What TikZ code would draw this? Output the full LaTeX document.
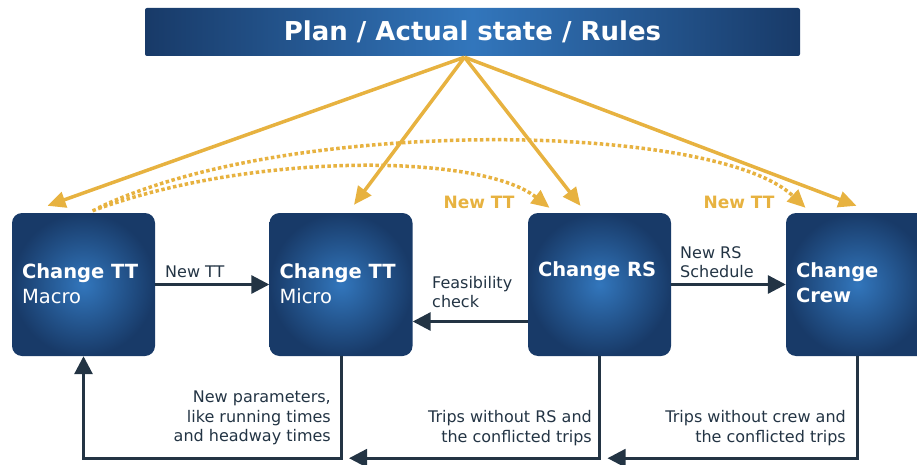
\documentclass[tikz,border=0pt]{standalone}
\usepackage{fontspec}
\setmainfont{DejaVu Sans}
\usetikzlibrary{arrows.meta,calc}

\definecolor{navyout}{RGB}{24,58,104}
\definecolor{navyin}{RGB}{50,118,188}
\definecolor{gold}{RGB}{231,178,64}
\definecolor{darkln}{RGB}{35,52,68}

\begin{document}
\begin{tikzpicture}[x=1pt,y=-1pt,
  box/.style={rounded corners=10pt, minimum width=143pt, minimum height=143pt,
    inner sep=0pt, inner color=navyin, outer color=navyout},
  topbar/.style={minimum width=655pt, minimum height=48pt, inner sep=0pt,
    rounded corners=2pt, left color=navyout, right color=navyout, middle color=navyin,
    text=white, font=\fontsize{26}{30}\selectfont\bfseries},
  boxtxt/.style={anchor=west, align=left, inner sep=0pt, text=white,
    font=\fontsize{19.5}{25}\selectfont},
  lbl/.style={inner sep=0pt, text=darkln, font=\fontsize{16}{19.5}\selectfont},
  goldlbl/.style={inner sep=0pt, text=gold, font=\fontsize{17}{20}\selectfont\bfseries},
  darr/.style={draw=darkln, line width=3pt, -{Triangle[length=18pt,width=18pt]}},
  garr/.style={draw=gold, line width=3.5pt, -{Triangle[length=18pt,width=16pt]}},
  gdot/.style={draw=gold, line width=3.5pt, dash pattern=on 3.5pt off 2.5pt,
    -{Triangle[length=18pt,width=16pt]}}
]
\clip (0,0) rectangle (917,465);
\useasboundingbox (0,0) rectangle (917,465);

% top bar
\node[topbar] (top) at (472.5,32) {Plan / Actual state / Rules};

% boxes
\node[box] (m1) at (83.5,284.5) {};
\node[box] (m2) at (341,284.5) {};
\node[box] (m3) at (599.5,284.5) {};
\node[box] (m4) at (857.5,284.5) {};

% box texts
\node[boxtxt] (t1) at ($(m1.west)+(10,-1)$) {\textbf{Change TT}\\Macro};
\node[boxtxt] (t2) at ($(m2.west)+(10,-1)$) {\textbf{Change TT}\\Micro};
\node[boxtxt] (t3) at ($(m3.west)+(10,-13)$) {\textbf{Change RS}};
\node[boxtxt] (t4) at ($(m4.west)+(10,-2)$) {\textbf{Change}\\\textbf{Crew}};

% gold straight arrows
\coordinate (src) at ($(top.south)+(-8,1)$);
\draw[garr] (src) -- ($(m1.north)+(-36,-7)$);
\draw[garr] (src) -- ($(m2.north)+(13,-8)$);
\draw[garr] (src) -- ($(m3.north)+(-19,-7)$);
\draw[garr] (src) -- ($(m4.north)+(-1,-7)$);

% gold dotted arcs
\draw[gdot] ($(m1.north)+(9,-2)$) .. controls (250,152) and (480,153) .. ($(m3.north)+(-50,-5)$);
\draw[gdot] ($(m1.north)+(15,-5)$) .. controls (290,116) and (715,122) .. ($(m4.north)+(-52,-5)$);

\node[goldlbl] (nt1) at (479,202) {New TT};
\node[goldlbl] (nt2) at (739,202) {New TT};

% dark horizontal arrows
\draw[darr] (m1.east) -- (m2.west);
\node[lbl, anchor=south west] (l1) at (165,278) {New TT};

\draw[darr] ($(m3.west)+(0,37)$) -- ($(m2.east)+(0,37)$);
\node[lbl, anchor=west, align=left] (l2) at (432,292) {Feasibility\\check};

\draw[darr] (m3.east) -- (m4.west);
\node[lbl, anchor=west, align=left] (l3) at (680,262) {New RS\\Schedule};

% bottom feedback loops
\coordinate (j2) at ($(m2.south)+(0,102)$);
\coordinate (j3) at ($(m3.south)+(0,102)$);
\coordinate (j4) at ($(m4.south)+(0,102)$);
\draw[darr] (m2.south) -- (j2) -| (m1.south);
\draw[darr] (m3.south) -- (j3) -- ($(j2)+(8,0)$);
\draw[darr] (m4.south) -- (j4) -- ($(j3)+(8,0)$);

\node[lbl, anchor=east, align=right] (l4) at (331,418) {New parameters,\\like running times\\and headway times};
\node[lbl, anchor=east, align=right] (l5) at (592,428) {Trips without RS and\\the conflicted trips};
\node[lbl, anchor=east, align=right] (l6) at (846,428) {Trips without crew and\\the conflicted trips};
\end{tikzpicture}
\end{document}
